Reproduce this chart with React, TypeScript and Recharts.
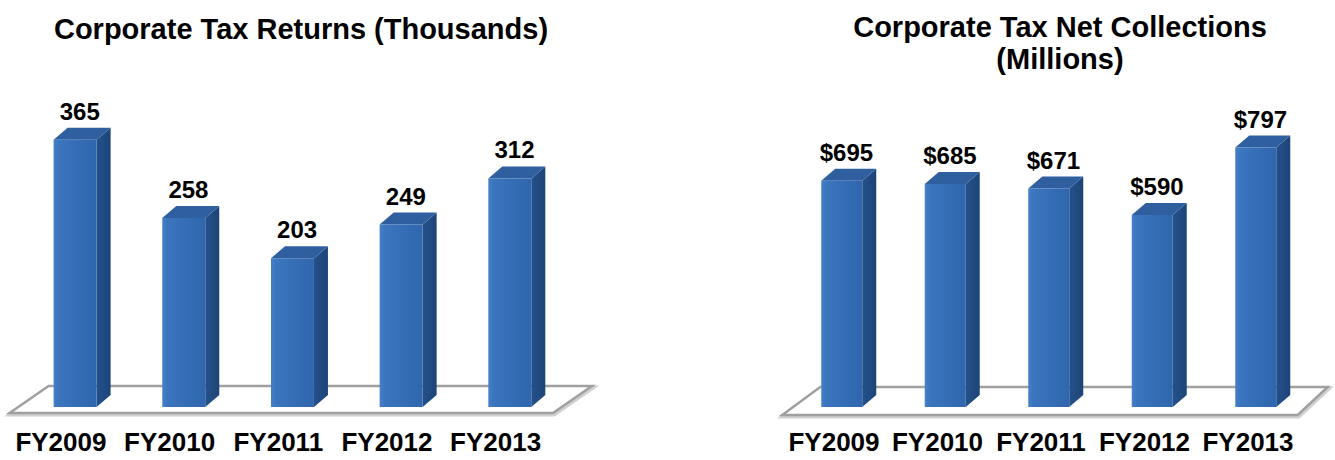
import React from 'react';
import { BarChart, Bar, XAxis, YAxis, ReferenceLine, LabelList } from 'recharts';

const categories = ['FY2009', 'FY2010', 'FY2011', 'FY2012', 'FY2013'];
const returnsValues = [365, 258, 203, 249, 312];
const returnsLabels = ['365', '258', '203', '249', '312'];
const collectionsValues = [695, 685, 671, 590, 797];
const collectionsLabels = ['$695', '$685', '$671', '$590', '$797'];

const returnsData = categories.map((c, i) => ({ name: c, value: returnsValues[i], label: returnsLabels[i] }));
const collectionsData = categories.map((c, i) => ({ name: c, value: collectionsValues[i], label: collectionsLabels[i] }));

const FONT = '"Liberation Sans", Arial, Helvetica, sans-serif';
const DX = 14;
const DY = 12;

function Bar3D(props: any) {
  const { x, y, width, height } = props;
  if (height == null || width == null) return null;
  const w = width;
  const h = height;
  const front = `M${x},${y}L${x + w},${y}L${x + w},${y + h}L${x},${y + h}Z`;
  const side = `M${x + w},${y}L${x + w + DX},${y - DY}L${x + w + DX},${y + h - DY}L${x + w},${y + h}Z`;
  const top = `M${x},${y}L${x + DX},${y - DY}L${x + w + DX},${y - DY}L${x + w},${y}Z`;
  return (
    <g>
      <defs>
        <linearGradient id="frontGrad3d" x1="0" y1="0" x2="1" y2="0">
          <stop offset="0%" stopColor="#4580c8" />
          <stop offset="12%" stopColor="#3b75be" />
          <stop offset="100%" stopColor="#2f66ad" />
        </linearGradient>
        <linearGradient id="sideGrad3d" x1="0" y1="0" x2="1" y2="0">
          <stop offset="0%" stopColor="#24518b" />
          <stop offset="100%" stopColor="#1d4478" />
        </linearGradient>
      </defs>
      <path d={side} fill="url(#sideGrad3d)" />
      <path d={top} fill="#2f5f9f" />
      <path d={front} fill="url(#frontGrad3d)" />
    </g>
  );
}

const makeFloor = (cfg: { fl: number; fr: number; bl: number; br: number; fy: number; by: number }) => (props: any) => {
  const { x1, x2, y1 } = props;
  const d = `M${x1 + cfg.fl},${y1 + cfg.fy}L${x2 + cfg.fr},${y1 + cfg.fy}L${x2 + cfg.br},${y1 + cfg.by}L${x1 + cfg.bl},${y1 + cfg.by}Z`;
  return (
    <g>
      <path d={d} fill="none" stroke="#d0d0d0" strokeWidth={4} transform="translate(1,1.5)" />
      <path d={d} fill="#ffffff" stroke="#a0a0a0" strokeWidth={2.5} />
    </g>
  );
};

const makeTick = (dx: number) => (props: any) => {
  const { x, y, payload } = props;
  return (
    <text x={x + dx} y={y + 44} textAnchor="middle" fontFamily={FONT} fontWeight="bold" fontSize={26} fill="#000">
      {payload.value}
    </text>
  );
};

const valueLabel = (props: any) => {
  const { x, y, width, value } = props;
  return (
    <text x={x + width / 2 + DX / 3} y={y - DY - 8} textAnchor="middle" fontFamily={FONT} fontWeight="bold" fontSize={24} fill="#000">
      {value}
    </text>
  );
};

const titleStyle: React.CSSProperties = {
  position: 'absolute',
  fontFamily: FONT,
  fontWeight: 'bold',
  fontSize: 29,
  color: '#000',
  textAlign: 'center',
  lineHeight: '32px',
  whiteSpace: 'nowrap',
};

export default function App() {
  return (
    <div style={{ position: 'absolute', left: 0, top: 0, width: 1335, height: 460, background: '#fff', overflow: 'hidden' }}>
      <div style={{ ...titleStyle, left: 0, width: 602, top: 13 }}>Corporate Tax Returns (Thousands)</div>
      <div style={{ ...titleStyle, left: 760, width: 600, top: 11 }}>
        Corporate Tax Net Collections
        <br />
        (Millions)
      </div>
      <div style={{ position: 'absolute', left: 0, top: 0 }}>
        <BarChart width={600} height={460} data={returnsData} margin={{ top: 114, right: 36, bottom: 0, left: 20.6 }}>
          <XAxis dataKey="name" axisLine={false} tickLine={false} tickSize={0} tickMargin={0} height={53} tick={makeTick(-14)} interval={0} />
          <YAxis hide domain={[0, 400]} />
          <ReferenceLine y={0} zIndex={-10} shape={makeFloor({ fl: -11, fr: -11, bl: 28, br: 28, fy: 6, by: -21 })} />
          <Bar dataKey="value" barSize={43} shape={Bar3D} isAnimationActive={false}>
            <LabelList dataKey="label" content={valueLabel} />
          </Bar>
        </BarChart>
      </div>
      <div style={{ position: 'absolute', left: 735, top: 0 }}>
        <BarChart width={600} height={460} data={collectionsData} margin={{ top: 114, right: 27.25, bottom: 0, left: 55.25 }}>
          <XAxis dataKey="name" axisLine={false} tickLine={false} tickSize={0} tickMargin={0} height={53} tick={makeTick(-8)} interval={0} />
          <YAxis hide domain={[0, 900]} />
          <ReferenceLine y={0} zIndex={-10} shape={makeFloor({ fl: -8, fr: -10, bl: 30, br: 20, fy: 8, by: -20 })} />
          <Bar dataKey="value" barSize={41} shape={Bar3D} isAnimationActive={false}>
            <LabelList dataKey="label" content={valueLabel} />
          </Bar>
        </BarChart>
      </div>
    </div>
  );
}
